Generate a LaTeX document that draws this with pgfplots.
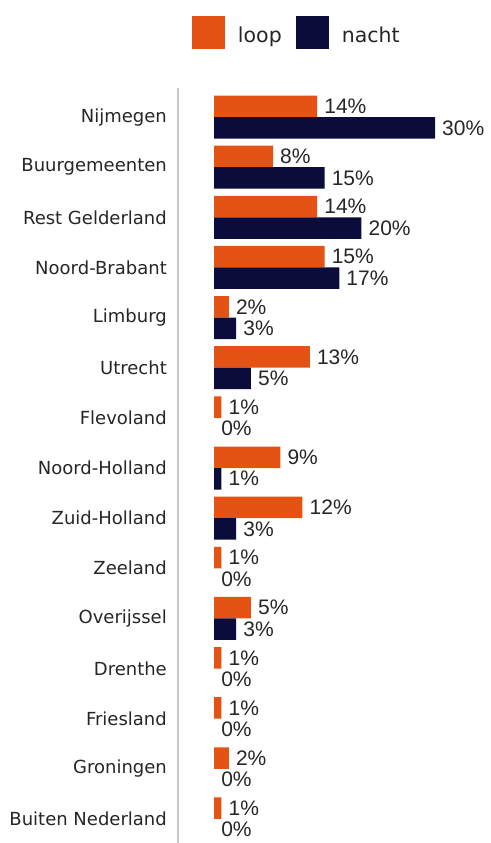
\documentclass[border=0pt]{standalone}
\usepackage{pgfplots}
\pgfplotsset{compat=1.18}
\usepackage{pgfplotstable}
\usepackage{fontspec}
\setmainfont{DejaVu Sans}
\newfontfamily\valfont{Liberation Sans}

\definecolor{loopc}{RGB}{228,82,20}
\definecolor{nachtc}{RGB}{11,12,60}

% y index 14 = Nijmegen (top) ... 0 = Buiten Nederland (bottom)
\pgfplotstableread{
idx loop nacht
14 14 30
13 8 15
12 14 20
11 15 17
10 2 3
9 13 5
8 1 0
7 9 1
6 12 3
5 1 0
4 5 3
3 1 0
2 1 0
1 2 0
0 1 0
}\datatable

\begin{document}
\begin{tikzpicture}
\begin{axis}[
    name=main,
    scale only axis,
    width=313pt, height=755pt,
    xbar, bar width=21.5pt,
    xmin=-4.9, xmax=37.6,
    ymin=-0.48, ymax=14.58,
    axis x line=none,
    axis y line=left,
    axis line style={-, draw=black!22, line width=1.5pt},
    ytick={0,...,14},
    yticklabels={Buiten Nederland,Groningen,Friesland,Drenthe,Overijssel,Zeeland,Zuid-Holland,Noord-Holland,Flevoland,Utrecht,Limburg,Noord-Brabant,Rest Gelderland,Buurgemeenten,Nijmegen},
    major tick length=0pt,
    ytick style={draw=none},
    yticklabel style={font=\fontsize{18}{20}\selectfont, text=black!85, anchor=east, inner sep=0pt, xshift=-11pt},
    clip=false,
    every node near coord/.append style={font=\valfont\fontsize{21}{23}\selectfont, text=black!85, anchor=west, inner sep=0pt, xshift=7pt},
    every axis plot post/.append style={legend image code/.code={\fill[##1] (0pt,-14pt) rectangle (33pt,19pt);}},
    legend columns=-1,
    legend style={draw=none, fill=none, at={(rel axis cs:0,1)}, anchor=south west, xshift=14pt, yshift=39pt,
        inner sep=0pt, outer sep=0pt, font=\fontsize{20.5}{22}\selectfont,
        nodes={inner sep=0pt, text=black!85},
        /tikz/every odd column/.append style={column sep=13pt},
        /tikz/every even column/.append style={column sep=14pt}},
]
\addplot[fill=loopc, draw=none, bar shift=10.75pt,
    nodes near coords={\pgfmathprintnumber[assume math mode=true]{\pgfplotspointmeta}\%}]
    table[x=loop, y=idx] {\datatable};
\addlegendentry{loop}
% bars of nacht (zero values left out, so no hairline is drawn)
\addplot[fill=nachtc, draw=none, bar shift=-10.75pt, x filter/.expression={x==0 ? nan : x}]
    table[x=nacht, y=idx] {\datatable};
\addlegendentry{nacht}
% labels of nacht, including the 0% ones
\addplot[fill=none, draw=none, bar shift=-10.75pt, forget plot,
    nodes near coords={\pgfmathprintnumber[assume math mode=true]{\pgfplotspointmeta}\%}]
    table[x=nacht, y=idx] {\datatable};
\end{axis}
\pgfresetboundingbox
\useasboundingbox ([xshift=-178pt]main.south west) rectangle ([yshift=88pt]main.north east);
\end{tikzpicture}
\end{document}
